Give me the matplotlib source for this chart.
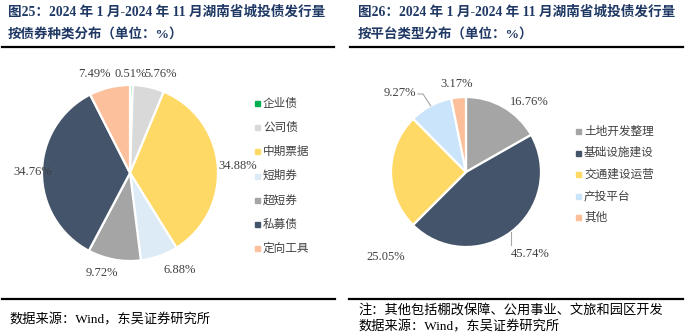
import numpy as np
import matplotlib
matplotlib.use('Agg')
import matplotlib.pyplot as plt
from matplotlib.lines import Line2D

W, H = 686, 334

# 图25: 按债券种类分布
bond_types = ['企业债', '公司债', '中期票据', '短期券', '超短券', '私募债', '定向工具']
bond_share = [0.51, 5.76, 34.88, 6.88, 9.72, 34.76, 7.49]
bond_colors = ['#00b050', '#d9d9d9', '#ffd966', '#ddebf7', '#a5a5a5', '#44546a', '#fcc09c']
bond_label_pos = [(0.01, 1.125), (0.35, 1.125), (1.22, 0.08), (0.57, -1.10),
                  (-0.32, -1.14), (-1.10, 0.01), (-0.41, 1.125)]

# 图26: 按平台类型分布
platform_types = ['土地开发整理', '基础设施建设', '交通建设运营', '产投平台', '其他']
platform_share = [16.76, 45.74, 25.05, 9.27, 3.17]
platform_colors = ['#a5a5a5', '#44546a', '#ffd966', '#c9e4fb', '#fcbf9a']
platform_label_pos = [(0.85, 0.93), (0.85, -1.09), (-1.07, -1.13), (-0.88, 1.06), (-0.12, 1.17)]

title_color = '#1f3864'
num_font = ['Liberation Serif', 'Noto Sans CJK SC']
cjk_font = ['Noto Sans CJK SC', 'DejaVu Sans']


def fx(x):
    return x / W


def fy(y):
    return 1 - y / H


def pie_axes(fig, cx, cy, r, pad=1.6):
    half = pad * r
    ax = fig.add_axes([fx(cx - half), fy(cy + half), 2 * half / W, 2 * half / H])
    return ax, pad


def draw_pie(fig, cx, cy, r, values, colors, label_pos):
    ax, pad = pie_axes(fig, cx, cy, r)
    wedges, _ = ax.pie(values, colors=colors, startangle=90, counterclock=False,
                       wedgeprops=dict(edgecolor='white', linewidth=1.6))
    for v, (x, y) in zip(values, label_pos):
        ax.text(x, y, '%.2f%%' % v, ha='center', va='center', fontsize=9,
                family=num_font, color='#404040')
    ax.set_xlim(-pad, pad)
    ax.set_ylim(-pad, pad)
    ax.axis('off')
    return ax, wedges


def draw_legend(fig, x, y0, step, names, colors):
    for i, (name, c) in enumerate(zip(names, colors)):
        y = y0 + i * step
        fig.add_artist(Line2D([fx(x)], [fy(y)], marker='s', markersize=3.6, color=c,
                              linestyle='none', transform=fig.transFigure))
        fig.text(fx(x + 6), fy(y), name, fontsize=8.4, family=cjk_font, color='#404040',
                 ha='left', va='center')


def draw_rule(fig, x0, x1, y):
    fig.add_artist(Line2D([fx(x0), fx(x1)], [fy(y), fy(y)], color='black', linewidth=1.6,
                          transform=fig.transFigure))


fig = plt.figure(figsize=(W / 100, H / 100), dpi=100)

# titles
for x, num, tail in [(8, '25', '按债券种类分布（单位：%）'), (358, '26', '按平台类型分布（单位：%）')]:
    fig.text(fx(x), fy(12), '图%s：2024 年 1 月-2024 年 11 月湖南省城投债发行量' % num,
             fontsize=9.8, fontweight='bold', family=num_font, color=title_color,
             ha='left', va='center')
    fig.text(fx(x), fy(34), tail, fontsize=9.7, fontweight='bold', family=num_font,
             color=title_color, ha='left', va='center')

draw_rule(fig, 2, 334, 47)
draw_rule(fig, 350, 683, 47)
draw_rule(fig, 2, 335, 299)
draw_rule(fig, 349, 683, 299)

# left pie
draw_pie(fig, 130, 173, 88, bond_share, bond_colors, bond_label_pos)
draw_legend(fig, 257, 103, 24.2, bond_types, bond_colors)

# right pie, with leader lines for two labels
ax2, wedges2 = draw_pie(fig, 466, 172, 75, platform_share, platform_colors, platform_label_pos)
for idx, tail_pts in [(3, [(-0.573, 1.04), (-0.64, 1.04)]), (1, [(0.627, -0.973)])]:
    w = wedges2[idx]
    mid = np.deg2rad((w.theta1 + w.theta2) / 2)
    xs = [np.cos(mid)] + [p[0] for p in tail_pts]
    ys = [np.sin(mid)] + [p[1] for p in tail_pts]
    if idx == 1:
        xs = [np.cos(mid), np.cos(mid)]
    ax2.plot(xs, ys, color='#a6a6a6', linewidth=0.8)
draw_legend(fig, 578, 131, 21.6, platform_types, platform_colors)

# footers
fig.text(fx(9), fy(320), '数据来源：Wind，东吴证券研究所', fontsize=9.5, family=num_font,
         color='black', ha='left', va='center')
fig.text(fx(358), fy(311), '注：其他包括棚改保障、公用事业、文旅和园区开发', fontsize=9.5,
         family=num_font, color='black', ha='left', va='center')
fig.text(fx(358), fy(327), '数据来源：Wind，东吴证券研究所', fontsize=9.5, family=num_font,
         color='black', ha='left', va='center')

fig.savefig('out.png', dpi=100)
